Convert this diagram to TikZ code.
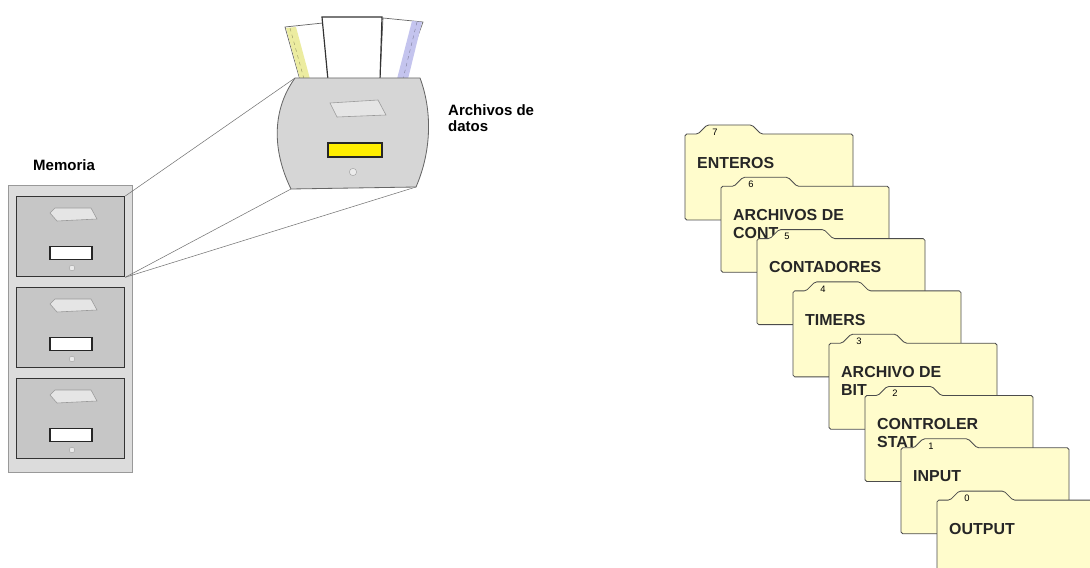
\documentclass[tikz,border=0pt]{standalone}
\usepackage{fontspec}
\setmainfont{Liberation Sans}
\usetikzlibrary{positioning,calc}
\definecolor{cabgray}{RGB}{220,220,220}
\definecolor{drwgray}{RGB}{198,198,198}
\definecolor{bigdrw}{RGB}{214,214,214}
\definecolor{foldercream}{RGB}{255,252,204}
\definecolor{paperyel}{RGB}{236,236,160}
\definecolor{paperblu}{RGB}{196,196,238}
\definecolor{slotyel}{RGB}{255,238,0}
\tikzset{
  cabinet/.style={rectangle, draw=black!40, fill=cabgray, line width=0.6pt, inner sep=0pt},
  drawer/.style={rectangle, draw=black!80, fill=drwgray, line width=1.1pt, inner sep=0pt,
    minimum width=3.24cm, minimum height=2.4cm, anchor=north west},
  handle/.style={draw=black!40, fill=black!10, line width=0.5pt},
  slot/.style={rectangle, draw=black!85, fill=white, line width=1.1pt, inner sep=0pt,
    minimum width=1.26cm, minimum height=0.39cm},
  knob/.style={circle, draw=black!35, fill=black!8, line width=0.4pt, inner sep=0pt, minimum size=0.17cm},
  bigdrawer/.style={draw=black!60, fill=bigdrw, line width=0.7pt},
  paper/.style={draw=black!60, fill=white, line width=0.6pt},
  folder/.style={draw=black!70, fill=foldercream, line width=0.7pt, rounded corners=1.5pt},
  foldertxt/.style={font=\bfseries\fontsize{13.6}{15.3}\selectfont, align=left, inner sep=0pt, text=black!85},
  tabnum/.style={font=\fontsize{8}{9}\selectfont, inner sep=0pt},
  caption/.style={font=\bfseries\fontsize{12.8}{14}\selectfont, align=left, inner sep=0pt},
  zoomline/.style={draw=black!55, line width=0.45pt}
}

\begin{document}
\begin{tikzpicture}[x=0.03cm, y=-0.03cm]
  \useasboundingbox (0,0) rectangle (1090,568);
  \fill[white] (0,0) rectangle (1090,568);
  \clip (0,0) rectangle (1090,568);

  % cabinet with three drawers
  \node[cabinet, minimum width=3.72cm, minimum height=8.61cm, anchor=north west] (cab) at (8,185) {};
  \foreach \y [count=\k] in {196,287,378} {
    \node[drawer] (drw\k) at (16,\y) {};
    \draw[handle] ($(drw\k.north west)+(34,17)$) -- ($(drw\k.north west)+(39,12)$)
      -- ($(drw\k.north west)+(75,12)$) -- ($(drw\k.north west)+(81,23)$)
      -- ($(drw\k.north west)+(41,25)$) -- cycle;
    \node[slot] (slot\k) at ($(drw\k.north west)+(55,57)$) {};
    \node[knob] (knob\k) at ($(drw\k.north west)+(56,72)$) {};
  }
  \node[caption, anchor=west] (mem) at (33,165) {Memoria};

  % papers sticking out of the open drawer
  \draw[paper] (285,27) -- (323,23) -- (328,80) -- (300,80) -- cycle;
  \fill[paperyel] (286,28) -- (296,27) -- (310,79) -- (300,79) -- cycle;
  \draw[paperyel!60!black, dashed, line width=0.3pt] (290,28) -- (304,79);
  \draw[paper] (383,18) -- (423,22) -- (402,80) -- (380,80) -- cycle;
  \fill[paperblu] (412,21) -- (422,22) -- (408,79) -- (397,79) -- cycle;
  \draw[paperblu!60!black, dashed, line width=0.3pt] (417,22) -- (403,79);
  \draw[paper, draw=black!80, line width=1pt] (322,17) -- (382,17) -- (380,80) -- (328,80) -- cycle;

  % enlarged drawer
  \coordinate (bd-tl) at (295,78);
  \coordinate (bd-tr) at (420,78);
  \coordinate (bd-br) at (416,187);
  \coordinate (bd-bl) at (291,189);
  \draw[zoomline] (drw1.north east) -- (bd-tl);
  \draw[zoomline] (drw1.south east) -- (bd-bl);
  \draw[zoomline] (drw1.south east) -- (bd-br);
  \draw[bigdrawer] (bd-tl) -- (bd-tr) .. controls (432,110) and (432,150) .. (bd-br)
    -- (bd-bl) .. controls (272,150) and (272,110) .. (bd-tl) -- cycle;
  \draw[handle] (330,103) -- (378,100) -- (386,115) -- (337,117) -- cycle;
  \node[slot, fill=slotyel, minimum width=1.62cm, minimum height=0.42cm] (bigslot) at (355,150) {};
  \node[knob, minimum size=0.22cm] (bigknob) at (353,172) {};
  \node[caption, anchor=north west] (arch) at (448,104) {Archivos de\\datos};

  % stacked data-file folders
  \foreach \num/\txt [count=\i from 0] in {7/ENTEROS, 6/{ARCHIVOS DE\\CONT},
      5/CONTADORES, 4/TIMERS, 3/{ARCHIVO DE\\BIT}, 2/{CONTROLER\\STAT}, 1/INPUT, 0/OUTPUT} {
    \pgfmathsetmacro{\fx}{685+36*\i}
    \pgfmathsetmacro{\fy}{134+52.3*\i}
    \draw[folder] (\fx,\fy) -- ++(13,0) -- ++(9,-9) -- ++(45,0) -- ++(9,9)
      -- (\fx+168,\fy) -- (\fx+168,\fy+86) -- (\fx,\fy+86) -- cycle;
    \node[tabnum] (num\num) at (\fx+30,\fy-2) {\num};
    \node[foldertxt, anchor=north west] (fold\num) at (\fx+12,\fy+23) {\txt};
  }
\end{tikzpicture}
\end{document}
